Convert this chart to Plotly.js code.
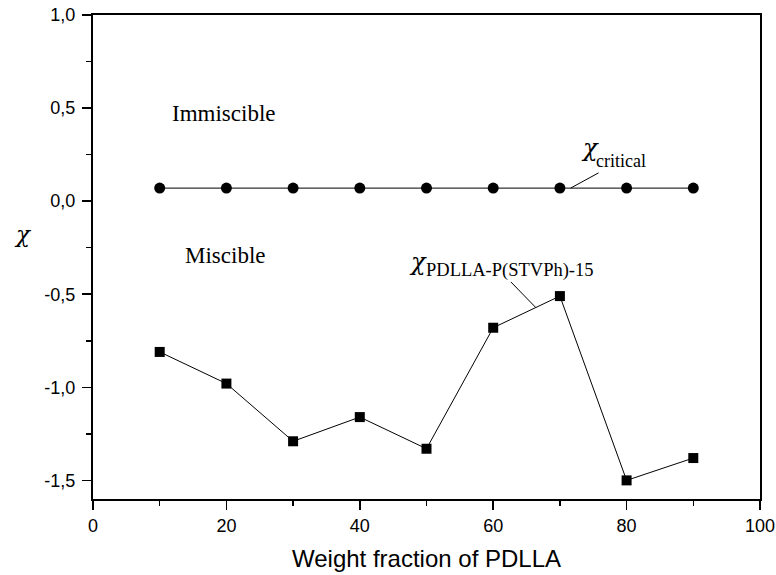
<!DOCTYPE html>
<html>
<head>
<meta charset="utf-8">
<script src="https://cdn.plot.ly/plotly-3.0.1.min.js"></script>
<style>html,body{margin:0;padding:0;background:#fff;}#chart{width:776px;height:575px;}</style>
</head>
<body>
<div id="chart"></div>
<script>
// Data
const weightFraction = [10, 20, 30, 40, 50, 60, 70, 80, 90];
const chiCritical = [0.07, 0.07, 0.07, 0.07, 0.07, 0.07, 0.07, 0.07, 0.07];
const chiBlend = [-0.81, -0.98, -1.29, -1.16, -1.33, -0.68, -0.51, -1.50, -1.38];
const xTickVals = [0, 20, 40, 60, 80, 100];
const yTickVals = [-1.5, -1.0, -0.5, 0.0, 0.5, 1.0];
const yTickText = yTickVals.map(v => v.toFixed(1).replace('.', ','));

const traces = [
  {
    x: weightFraction, y: chiCritical, type: 'scatter', mode: 'lines+markers',
    line: {color: '#000', width: 1},
    marker: {symbol: 'circle', size: 11, color: '#000'},
    cliponaxis: false, showlegend: false, hoverinfo: 'skip'
  },
  {
    x: weightFraction, y: chiBlend, type: 'scatter', mode: 'lines+markers',
    line: {color: '#000', width: 1},
    marker: {symbol: 'square', size: 10, color: '#000'},
    cliponaxis: false, showlegend: false, hoverinfo: 'skip'
  }
];

const serif = 'Liberation Serif, Times New Roman, serif';
const greek = 'DejaVu Serif, serif';
const sans = 'Liberation Sans, Arial, sans-serif';

const layout = {
  width: 776, height: 575,
  margin: {l: 93, r: 16, t: 15, b: 76},
  paper_bgcolor: '#fff', plot_bgcolor: '#fff',
  separators: ',.',
  font: {family: sans, color: '#000', size: 18},
  xaxis: {
    range: [0, 100], tickvals: xTickVals, ticks: 'outside', ticklen: 9, tickwidth: 1.5,
    tickcolor: '#000', showline: true, linecolor: '#000', linewidth: 2, mirror: true,
    showgrid: false, zeroline: false, tickfont: {family: sans, size: 18},
    minor: {dtick: 10, ticks: 'outside', ticklen: 5, tickwidth: 1.5, tickcolor: '#000', showgrid: false},
    title: {text: 'Weight fraction of PDLLA', font: {family: sans, size: 24}, standoff: 16}
  },
  yaxis: {
    range: [-1.6, 1.0], tickvals: yTickVals, ticktext: yTickText, ticks: 'outside', ticklen: 9, tickwidth: 1.5,
    tickcolor: '#000', showline: true, linecolor: '#000', linewidth: 2, mirror: true,
    showgrid: false, zeroline: false, tickfont: {family: sans, size: 18}, ticklabelstandoff: 3,
    minor: {dtick: 0.25, ticks: 'outside', ticklen: 5, tickwidth: 1.5, tickcolor: '#000', showgrid: false}
  },
  annotations: [
    // y-axis title
    {x: -0.122, y: 0.548, xref: 'paper', yref: 'paper', text: '<i>χ</i>', showarrow: false,
     font: {family: greek, size: 23, color: '#000'}},
    {x: 19.6, y: 0.47, xref: 'x', yref: 'y', text: 'Immiscible', showarrow: false,
     font: {family: serif, size: 23, color: '#000'}},
    {x: 19.9, y: -0.29, xref: 'x', yref: 'y', text: 'Miscible', showarrow: false,
     font: {family: serif, size: 23, color: '#000'}},
    // chi critical
    {x: 72.8, y: 0.285, xref: 'x', yref: 'y', xanchor: 'left', text: '<i>χ</i>', showarrow: false,
     font: {family: greek, size: 24, color: '#000'}},
    {x: 75.1, y: 0.215, xref: 'x', yref: 'y', xanchor: 'left', text: 'critical', showarrow: false,
     font: {family: serif, size: 18, color: '#000'}},
    // chi blend
    {x: 47.1, y: -0.325, xref: 'x', yref: 'y', xanchor: 'left', text: '<i>χ</i>', showarrow: false,
     font: {family: greek, size: 24, color: '#000'}},
    {x: 49.6, y: -0.375, xref: 'x', yref: 'y', xanchor: 'left', text: 'PDLLA-P(STVPh)-15', showarrow: false,
     font: {family: serif, size: 18.5, color: '#000'}}
  ],
  shapes: [
    {type: 'line', xref: 'x', yref: 'y', x0: 71.6, y0: 0.07, x1: 75.8, y1: 0.152,
     line: {color: '#000', width: 1}},
    {type: 'line', xref: 'x', yref: 'y', x0: 62.65, y0: -0.434, x1: 66.4, y1: -0.572,
     line: {color: '#000', width: 1}}
  ]
};

Plotly.newPlot('chart', traces, layout, {staticPlot: true, displayModeBar: false});
</script>
</body>
</html>
